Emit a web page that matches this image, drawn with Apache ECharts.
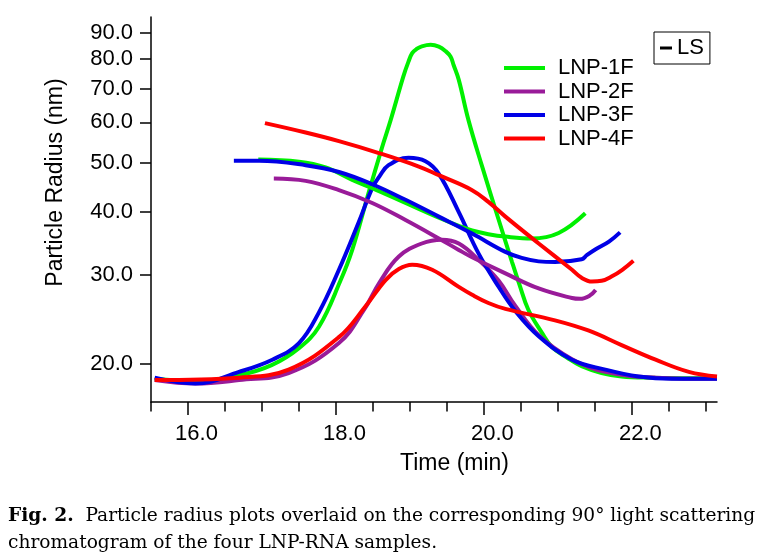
<!DOCTYPE html>
<html>
<head>
<meta charset="utf-8">
<script src="https://cdn.jsdelivr.net/npm/echarts@6/dist/echarts.min.js"></script>
<style>
html,body{margin:0;padding:0;background:#fff;}
#chart{width:768px;height:557px;}
</style>
</head>
<body>
<div id="chart"></div>
<script>
// ---- data (time in min, value on radius axis) ----
const sampleNames = ['LNP-1F', 'LNP-2F', 'LNP-3F', 'LNP-4F'];
const xMajorTicks = [16, 18, 20, 22];
const xMinorTicks = [15.5, 16, 16.5, 17, 17.5, 18, 18.5, 19, 19.5, 20, 20.5, 21, 21.5, 22, 22.5, 23];
const yTicks = [20, 30, 40, 50, 60, 70, 80, 90];

// particle radius curves
const radius1F = [[16.95,50.7],[17.50,50.2],[17.86,48.9],[18.22,46.2],[18.49,44.5],[18.94,41.6],[19.39,38.9],[19.66,37.5],[19.84,36.7],[20.06,36.1],[20.29,35.7],[20.65,35.4],[21.01,36.3],[21.37,39.7]];
const radius2F = [[17.16,46.5],[17.59,46.0],[18.04,44.1],[18.49,41.6],[18.94,38.5],[19.39,35.4],[19.66,33.6],[19.84,32.5],[20.29,30.2],[20.74,28.2],[21.19,27.0],[21.30,26.9],[21.43,27.3],[21.51,28.0]];
const radius3F = [[16.62,50.4],[16.96,50.4],[17.59,49.4],[18.04,47.9],[18.49,45.3],[18.94,42.2],[19.39,39.1],[19.84,36.2],[20.29,33.3],[20.51,32.4],[20.74,31.9],[20.96,31.8],[21.32,32.2],[21.39,32.8],[21.51,33.7],[21.69,34.9],[21.84,36.4]];
const radius4F = [[17.04,59.8],[17.59,57.3],[18.04,55.1],[18.58,52.2],[19.12,49.1],[19.39,47.2],[19.84,44.1],[20.06,41.8],[20.29,39.1],[20.74,34.6],[21.19,30.7],[21.32,29.6],[21.46,29.1],[21.59,29.2],[21.73,29.8],[21.87,30.7],[22.02,32.0]];

// 90 degree light scattering chromatograms
const ls1F = [[15.55,18.7],[16.10,18.5],[16.69,19.0],[17.13,19.9],[17.50,21.5],[17.77,23.7],[18.06,29.2],[18.22,33.6],[18.44,43.5],[18.62,53.4],[18.74,60.7],[18.91,73.9],[18.98,79.1],[19.03,82.2],[19.09,83.8],[19.16,84.8],[19.28,85.4],[19.39,84.7],[19.48,83.0],[19.55,80.9],[19.59,77.9],[19.66,72.8],[19.79,60.7],[19.97,49.4],[20.20,38.5],[20.38,31.8],[20.48,28.7],[20.60,25.6],[20.78,23.1],[20.92,21.6],[21.12,20.6],[21.32,19.8],[21.59,19.2],[21.86,18.9],[22.23,18.8],[23.15,18.75]];
const ls2F = [[15.55,18.6],[16.10,18.3],[16.69,18.6],[17.36,19.2],[18.04,22.0],[18.38,25.6],[18.59,29.0],[18.85,32.6],[19.16,34.6],[19.43,35.2],[19.66,34.6],[19.93,32.1],[20.20,29.2],[20.42,26.1],[20.74,22.8],[21.19,20.45],[21.64,19.3],[22.32,18.8],[23.15,18.7]];
const ls3F = [[15.55,18.8],[16.10,18.3],[16.69,19.3],[17.14,20.4],[17.50,22.0],[17.77,25.3],[18.04,30.7],[18.31,38.2],[18.49,44.5],[18.59,47.0],[18.71,49.4],[18.98,51.1],[19.21,50.3],[19.39,47.5],[19.66,39.9],[19.93,33.0],[20.20,28.4],[20.42,25.5],[20.74,22.7],[21.19,20.4],[21.64,19.5],[22.09,18.9],[22.54,18.7],[23.15,18.7]];
const ls4F = [[15.55,18.6],[16.69,18.8],[17.36,19.5],[18.04,22.6],[18.40,26.0],[18.67,29.3],[18.85,30.8],[19.03,31.4],[19.30,30.7],[19.66,28.4],[19.84,27.4],[20.06,26.4],[20.29,25.7],[20.96,24.4],[21.41,23.3],[21.86,21.8],[22.32,20.4],[22.77,19.3],[23.15,18.9]];

const colors = ['#00f000', '#991b99', '#0000e6', '#ff0000'];
const radiusData = [radius1F, radius2F, radius3F, radius4F];
const lsData = [ls1F, ls2F, ls3F, ls4F];

const chart = echarts.init(document.getElementById('chart'), null, {renderer: 'canvas'});
const font = 'Liberation Sans, Arial, sans-serif';

const series = [];
lsData.forEach((d, i) => {
  series.push({
    name: sampleNames[i] + ' LS', type: 'line', data: d, smooth: 0.4, showSymbol: false,
    xAxisIndex: 0, yAxisIndex: 0,
    lineStyle: {color: colors[i], width: 4}, itemStyle: {color: colors[i]}, z: 2
  });
});
radiusData.forEach((d, i) => {
  series.push({
    name: sampleNames[i], type: 'line', data: d, smooth: 0.4, showSymbol: false,
    xAxisIndex: 0, yAxisIndex: 0,
    lineStyle: {color: colors[i], width: 4}, itemStyle: {color: colors[i]}, z: 3
  });
});
series.push({name: 'LS', type: 'line', data: [], itemStyle: {color: '#000'}, lineStyle: {color: '#000'}});

const option = {
  animation: false,
  backgroundColor: '#fff',
  grid: {left: 151, right: 51, top: 17, bottom: 155},
  legend: [
    {
      data: sampleNames, orient: 'vertical', left: 499, top: 52, itemGap: 1.5,
      icon: 'rect', itemWidth: 41, itemHeight: 4, selectedMode: false,
      textStyle: {fontFamily: font, fontSize: 22, color: '#000', padding: [0, 0, 0, 8]}
    },
    {
      data: ['LS'], left: 654, top: 32, icon: 'rect', itemWidth: 12, itemHeight: 3,
      padding: [5, 6, 5, 6], borderColor: '#000', borderWidth: 1, selectedMode: false,
      textStyle: {fontFamily: font, fontSize: 22, color: '#000'}
    }
  ],
  xAxis: [
    {
      type: 'value', min: 15.5, max: 23.15, position: 'bottom',
      name: 'Time (min)', nameLocation: 'middle', nameGap: 50,
      nameTextStyle: {fontFamily: font, fontSize: 23, color: '#000', padding: [0, 0, 0, 41]},
      axisLine: {show: true, lineStyle: {color: '#000', width: 1.5}},
      axisTick: {show: true, customValues: xMajorTicks, length: 13, lineStyle: {color: '#000', width: 1.5}},
      axisLabel: {customValues: xMajorTicks, formatter: v => Number(v).toFixed(1), fontFamily: font, fontSize: 22, color: '#000', margin: 21, padding: [0, 0, 0, 17]},
      splitLine: {show: false}
    },
    {
      type: 'value', min: 15.5, max: 23.15, position: 'bottom',
      axisLine: {show: false},
      axisTick: {show: true, customValues: xMinorTicks, length: 9.5, lineStyle: {color: '#000', width: 1.5}},
      axisLabel: {show: false},
      splitLine: {show: false}
    }
  ],
  yAxis: {
    type: 'log', min: 16.83, max: 96.9, logBase: 10,
    name: 'Particle Radius (nm)', nameLocation: 'middle', nameGap: 84, nameRotate: 90,
    nameTextStyle: {fontFamily: font, fontSize: 23, color: '#000', padding: [0, 0, 0, 54]},
    axisLine: {show: true, lineStyle: {color: '#000', width: 1.5}},
    axisTick: {show: true, customValues: yTicks, length: 11, lineStyle: {color: '#000', width: 1.5}},
    axisLabel: {customValues: yTicks, formatter: v => Number(v).toFixed(1), fontFamily: font, fontSize: 22, color: '#000', margin: 18},
    splitLine: {show: false}, minorTick: {show: false}
  },
  graphic: [
    {
      type: 'text', left: 8, top: 507,
      style: {
        text: '{b|Fig. 2.}  Particle radius plots overlaid on the corresponding 90° light scattering',
        rich: {b: {fontWeight: 'bold', fontFamily: 'DejaVu Serif', fontSize: 18.6, fill: '#000'}},
        fontFamily: 'DejaVu Serif', fontSize: 18.6, fill: '#000'
      }
    },
    {
      type: 'text', left: 8, top: 534,
      style: {text: 'chromatogram of the four LNP-RNA samples.', fontFamily: 'DejaVu Serif', fontSize: 18.6, fill: '#000'}
    }
  ],
  series: series
};
chart.setOption(option);
</script>
</body>
</html>
